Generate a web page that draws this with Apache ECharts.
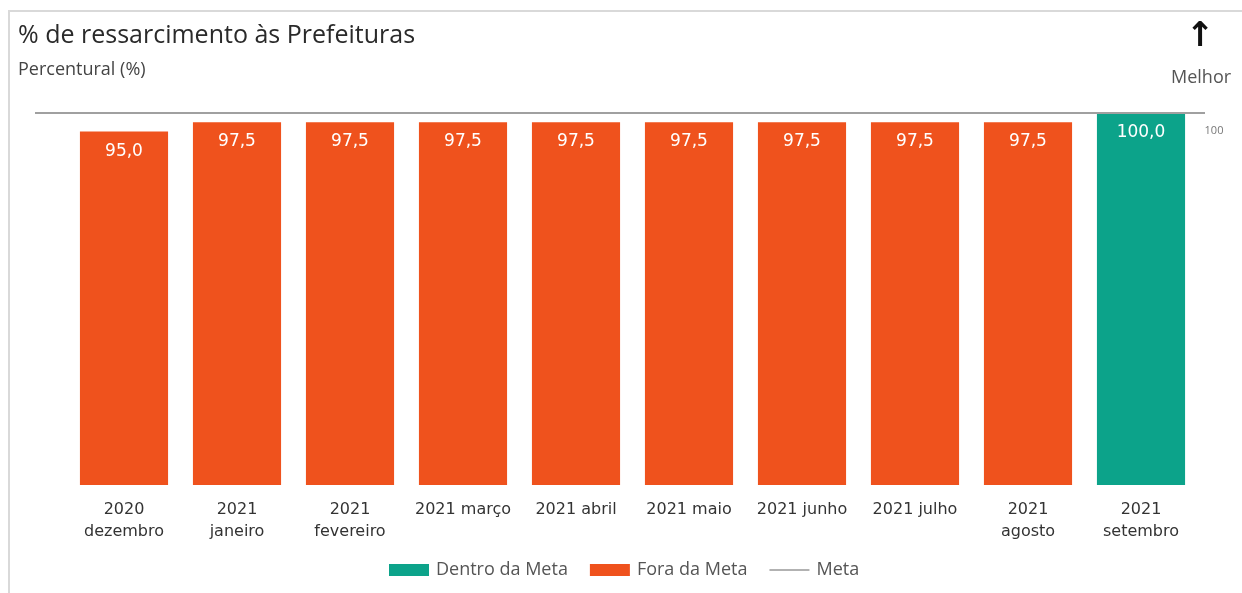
<!DOCTYPE html>
<html><head><meta charset="utf-8">
<script src="https://cdn.jsdelivr.net/npm/echarts@6/dist/echarts.min.js"></script>
<style>html,body{margin:0;padding:0;background:#fff}#c{width:1242px;height:593px}</style>
</head><body><div id="c"></div>
<script>
const categories = ['2020\ndezembro','2021\njaneiro','2021\nfevereiro','2021 março','2021 abril','2021 maio','2021 junho','2021 julho','2021\nagosto','2021\nsetembro'];
const values = [95.0, 97.5, 97.5, 97.5, 97.5, 97.5, 97.5, 97.5, 97.5, 100.0];
const metaValue = 100;
const yMin = 0, yMax = 100;

const dentro = values.map(v => v >= metaValue ? v : null);
const fora = values.map(v => v < metaValue ? v : null);
const metaLine = [[0, metaValue], [1, metaValue]];
const fmt = p => p.value == null ? '' : p.value.toFixed(1).replace('.', ',');

const chart = echarts.init(document.getElementById('c'));
const barLabel = {show:true, position:'insideTop', distance:11, color:'#fff', fontSize:17, fontFamily:'DejaVu Sans', formatter: fmt};
chart.setOption({
  animation:false,
  title:[
    {text:'% de ressarcimento às Prefeituras', left:13, top:18, textStyle:{fontFamily:'Open Sans', fontSize:25, fontWeight:'normal', color:'#2a2a2a'}},
    {text:'Percentural (%)', left:13, top:56, textStyle:{fontFamily:'Open Sans', fontSize:18, fontWeight:'normal', color:'#444'}}
  ],
  graphic:[
    {type:'polyline', shape:{points:[[9,600],[9,11],[1242,11]]}, style:{stroke:'#d9d9d9', lineWidth:2, fill:null}},
    {type:'text', left:1186, top:20, style:{text:'↑', font:'bold 34px DejaVu Sans', fill:'#111'}},
    {type:'text', left:1171, top:69, style:{text:'Melhor', font:'18px Open Sans', fill:'#555'}}
  ],
  legend:{bottom:9, left:384, itemWidth:40, itemHeight:12, itemGap:22,
    textStyle:{fontFamily:'Open Sans', fontSize:18, color:'#555', padding:[0,0,0,2]},
    data:[{name:'Dentro da Meta', icon:'rect'},{name:'Fora da Meta', icon:'rect'},
          {name:'Meta', icon:'path://M0,5.3L40,5.3L40,6.7L0,6.7ZM0,0L0.01,0ZM0,12L0.01,12Z'}]},
  grid:[
    {left:67.5, right:44.5, top:113, bottom:108},
    {left:35, right:37, top:113, bottom:108}
  ],
  xAxis:[
    {type:'category', gridIndex:0, data:categories, axisLine:{show:false}, axisTick:{show:false},
     axisLabel:{interval:0, margin:14, fontFamily:'DejaVu Sans', fontSize:16, color:'#333', lineHeight:22}},
    {type:'value', gridIndex:1, min:0, max:1, show:false}
  ],
  yAxis:[
    {type:'value', gridIndex:0, min:yMin, max:yMax, show:false},
    {type:'value', gridIndex:1, min:yMin, max:yMax, show:false}
  ],
  series:[
    {name:'Dentro da Meta', type:'bar', stack:'s', xAxisIndex:0, yAxisIndex:0, data:dentro, barCategoryGap:'22%',
     itemStyle:{color:'#0CA38A'}, label:barLabel},
    {name:'Fora da Meta', type:'bar', stack:'s', xAxisIndex:0, yAxisIndex:0, data:fora, barCategoryGap:'22%',
     itemStyle:{color:'#EF521D'}, label:barLabel},
    {name:'Meta', type:'line', xAxisIndex:1, yAxisIndex:1, symbol:'none', z:5,
     lineStyle:{color:'#a0a0a0', width:2}, itemStyle:{color:'#999'},
     data:metaLine,
     markPoint:{symbol:'rect', symbolSize:2, itemStyle:{color:'rgba(0,0,0,0)'},
       label:{show:true, formatter:'{c}', position:'inside', offset:[9,18], color:'#777', fontSize:11, fontFamily:'Open Sans'},
       data:[{coord:metaLine[1], value:metaValue}]}
    }
  ]
});
</script></body></html>
